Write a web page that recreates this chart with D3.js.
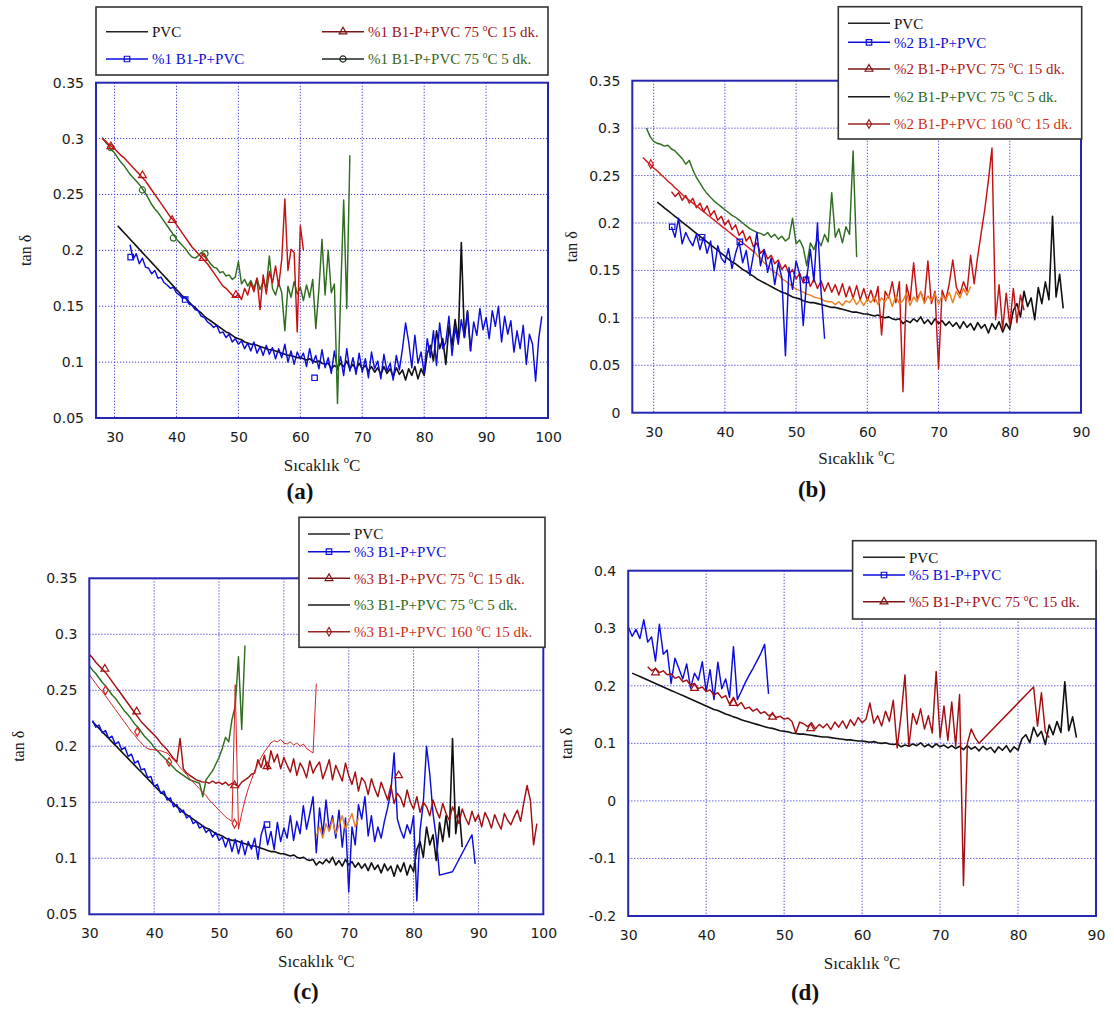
<!DOCTYPE html>
<html>
<head>
<meta charset="utf-8">
<script src="https://cdn.jsdelivr.net/npm/d3@7"></script>
<style>
  body { margin: 0; background: #fff; }
  svg { display: block; }
</style>
</head>
<body>
<svg id="chart" width="1114" height="1009"></svg>
<script>
// Temperature spacing of the DMA readings (°C)
const STEP = 0.5;

// Every trace is a list of runs: [first temperature, tan δ readings every STEP °C].
// Consecutive runs are joined by a straight segment (gaps in the recording).

// Neat PVC reference, same in every panel
const pvc = [[30.5, [
  0.222,0.219,0.216,0.213,0.210,0.207,0.204,0.201,0.198,0.195,
  0.192,0.189,0.186,0.183,0.180,0.177,0.174,0.171,0.168,0.165,
  0.162,0.159,0.157,0.154,0.151,0.149,0.146,0.144,0.141,0.139,
  0.137,0.135,0.133,0.131,0.129,0.127,0.126,0.124,0.122,0.121,
  0.120,0.118,0.117,0.116,0.116,0.115,0.114,0.113,0.112,0.111,
  0.111,0.110,0.109,0.108,0.107,0.106,0.106,0.105,0.104,0.104,
  0.103,0.102,0.103,0.101,0.100,0.101,0.099,0.098,0.099,0.094,
  0.097,0.095,0.099,0.096,0.101,0.094,0.098,0.093,0.099,0.094,
  0.097,0.092,0.096,0.091,0.095,0.089,0.096,0.090,0.094,0.087,
  0.095,0.089,0.093,0.084,0.094,0.088,0.096,0.085,0.094,0.088,
  0.108,0.115,0.101,0.128,0.112,0.121,0.098,0.132,0.115,0.138,
  0.119,0.207,0.122,0.146,0.110]]];

// (a) %1 B1-P
const aBlue = [[32.5, [
  0.205,0.192,0.197,0.188,0.193,0.185,
  0.184,0.179,0.182,0.175,0.176,0.171,0.169,0.166,0.167,0.162,
  0.160,0.157,0.158,0.152,0.151,0.147,0.146,0.141,0.140,0.136,
  0.134,0.131,0.133,0.126,0.127,0.122,0.125,0.118,0.121,0.116,
  0.119,0.112,0.117,0.110,0.118,0.108,0.114,0.106,0.115,0.107,
  0.113,0.103,0.112,0.104,0.116,0.100,0.110,0.098,0.109,0.103,
  0.108,0.096,0.112,0.099,0.106,0.094,0.111,0.095,0.104,0.090,
  0.110,0.093,0.105,0.088,0.112,0.092,0.104,0.089,0.108,0.091,
  0.103,0.086,0.109,0.094,0.101,0.085,0.107,0.092,0.099,0.084,
  0.106,0.093,0.112,0.135,0.118,0.095,0.124,0.099,0.109,0.090,
  0.121,0.104,0.128,0.097,0.135,0.112,0.118,0.141,0.106,0.131,
  0.116,0.138,0.122,0.145,0.110,0.136,0.124,0.148,0.129,0.140,
  0.121,0.146,0.132,0.150,0.118,0.141,0.125,0.137,0.109,0.128,
  0.112,0.133,0.098,0.125,0.116,0.083,0.121,0.141]]];
const aRed = [[28, [
  0.300,0.298,0.295,0.293,0.291,
  0.288,0.285,0.283,0.280,0.277,0.274,0.271,0.268,0.265,0.262,
  0.258,0.254,0.250,0.246,0.242,0.238,0.234,0.230,0.227,0.223,
  0.219,0.215,0.211,0.207,0.203,0.200,0.197,0.194,0.191,0.188,
  0.184,0.180,0.176,0.172,0.168,0.166,0.163,0.160,0.158,0.161,
  0.156,0.166,0.160,0.171,0.163,0.175,0.147,0.178,0.161,0.181,
  0.171,0.186,0.168,0.192,0.246,0.182,0.201,0.198,0.127,0.222,
  0.200]]];
const aGreen = [[28, [
  0.301,0.297,0.294,0.290,0.287,
  0.283,0.279,0.276,0.272,0.268,0.265,0.262,0.259,0.255,0.251,
  0.246,0.241,0.237,0.234,0.230,0.226,0.222,0.218,0.214,0.210,
  0.207,0.204,0.201,0.197,0.194,0.193,0.195,0.198,0.197,0.192,
  0.188,0.185,0.184,0.180,0.181,0.177,0.178,0.174,0.176,0.190,
  0.170,0.174,0.168,0.173,0.166,0.175,0.165,0.172,0.167,0.195,
  0.166,0.160,0.171,0.162,0.128,0.168,0.158,0.172,0.161,0.167,
  0.155,0.169,0.158,0.174,0.130,0.165,0.210,0.160,0.200,0.162,
  0.170,0.063,0.158,0.245,0.148,0.285]]];
const aBlueMarks = [[32.6,0.194],[41.4,0.156],[62.3,0.086]];
const aRedMarks = [[29.4,0.293],[34.5,0.267],[39.3,0.227],[44.3,0.193],[49.6,0.160]];
const aGreenMarks = [[29.4,0.292],[34.5,0.254],[39.5,0.211],[44.6,0.197]];

// (b) %2 B1-P
const bGreen = [[29, [
  0.300,0.291,0.286,
  0.284,0.283,0.281,0.282,0.278,0.276,0.272,0.268,0.262,0.266,
  0.256,0.248,0.242,0.236,0.231,0.227,0.223,0.220,0.217,0.214,
  0.211,0.208,0.206,0.203,0.200,0.197,0.194,0.192,0.190,0.189,
  0.187,0.190,0.185,0.188,0.183,0.186,0.181,0.184,0.205,0.178,
  0.182,0.174,0.155,0.179,0.172,0.183,0.176,0.188,0.180,0.232,
  0.185,0.194,0.179,0.196,0.188,0.276,0.164]]];
const bBlue = [[32.5, [
  0.196,0.185,0.205,0.178,0.190,0.182,
  0.176,0.188,0.172,0.185,0.168,0.181,0.150,0.176,0.163,0.158,
  0.173,0.152,0.168,0.180,0.158,0.171,0.145,0.166,0.190,0.155,
  0.172,0.148,0.163,0.135,0.158,0.142,0.060,0.153,0.130,0.160,
  0.146,0.092,0.142,0.172,0.138,0.200,0.128,0.078]]];
const b160 = [[28.5, [
  0.269,0.265,0.262,0.258,
  0.255,0.251,0.248,0.244,0.241,0.237,0.234,0.230,0.227,0.224,
  0.221,0.218,0.215,0.212,0.209,0.206,0.203,0.200,0.197,0.194,
  0.191,0.188,0.185,0.182,0.179,0.176,0.173,0.170]]];
const b160Late = [[44, [
  0.172,0.166,0.163,
  0.158,0.155,0.151,0.148,0.146,0.141,0.139,0.136,0.133,0.130,
  0.129,0.127,0.125,0.124,0.122,0.121,0.120,0.118,0.117,0.117,
  0.114,0.117,0.113,0.118,0.116,0.121,0.114,0.119,0.113,0.120,
  0.116,0.122,0.114,0.121,0.117,0.124,0.112,0.123,0.115,0.118,
  0.126,0.113,0.122,0.117,0.128,0.115,0.123,0.118,0.126,0.114,
  0.124,0.119,0.127,0.116,0.128,0.121,0.131,0.124,0.133]]];
const bRed = [[32.5, [
  0.233,0.228,0.232,0.224,0.229,0.221,
  0.226,0.216,0.221,0.212,0.218,0.208,0.213,0.203,0.207,0.198,
  0.203,0.193,0.198,0.187,0.192,0.181,0.186,0.175,0.179,0.168,
  0.172,0.162,0.166,0.157,0.161,0.151,0.156,0.146,0.151,0.141,
  0.147,0.137,0.145,0.133,0.141,0.131,0.139,0.128,0.137,0.127,
  0.135,0.124,0.136,0.122,0.133,0.121,0.134,0.119,0.131,0.118,
  0.129,0.117,0.133,0.082,0.128,0.121,0.138,0.116,0.138,0.022,
  0.135,0.118,0.158,0.120,0.127,0.117,0.160,0.115,0.128,0.046,
  0.129,0.118,0.136,0.161,0.132,0.125,0.138,0.128,0.166,0.136,
  0.165,0.190,0.215,0.245,0.279,0.098,0.135,0.088,0.126,0.092,
  0.131,0.095,0.124,0.108]]];
const bBlueMarks = [[32.6,0.196],[36.8,0.185],[42.1,0.180],[51.4,0.140]];
const b160Marks = [[29.6,0.262]];

// (c) %3 B1-P
const cBlue = [[30.5, [
  0.223,0.217,0.219,0.212,0.214,0.207,0.209,0.202,0.204,0.197,
  0.199,0.191,0.193,0.185,0.187,0.179,0.180,0.172,0.173,0.164,
  0.166,0.158,0.160,0.152,0.154,0.146,0.148,0.141,0.143,0.136,
  0.138,0.131,0.133,0.127,0.129,0.123,0.126,0.119,0.123,0.116,
  0.119,0.110,0.118,0.106,0.117,0.104,0.116,0.103,0.115,0.108,
  0.118,0.099,0.121,0.130,0.112,0.124,0.108,0.132,0.115,0.127,
  0.118,0.138,0.116,0.133,0.122,0.147,0.126,0.140,0.155,0.105,
  0.145,0.121,0.152,0.125,0.138,0.118,0.143,0.110,0.136,0.070,
  0.128,0.112,0.148,0.135,0.155,0.120,0.138,0.115,0.128,0.118,
  0.133,0.145,0.160,0.194,0.135,0.125,0.118,0.130,0.122,0.138,
  0.062,0.125,0.150,0.200,0.175,0.140,0.118,0.085]],
  [86, [0.088]],
  [89, [0.121,0.095]]];
const cRed = [[30, [
  0.282,0.279,0.275,0.272,0.269,0.266,0.262,0.258,0.254,0.250,0.246,
  0.242,0.238,0.234,0.230,0.226,0.222,0.219,0.216,0.213,0.210,
  0.207,0.203,0.200,0.197,0.193,0.189,0.186,0.207,0.180,0.176,
  0.174,0.172,0.170,0.169,0.168,0.168,0.167,0.169,0.167,0.168,
  0.166,0.168,0.165,0.167,0.166,0.164,0.168,0.170,0.172,0.175,
  0.176,0.188,0.181,0.192,0.179,0.196,0.186,0.193,0.180,0.190,
  0.183,0.177,0.189,0.174,0.185,0.180,0.172,0.187,0.176,0.182,
  0.186,0.171,0.179,0.188,0.170,0.183,0.176,0.169,0.185,0.174,
  0.166,0.177,0.160,0.172,0.168,0.157,0.171,0.162,0.155,0.168,
  0.160,0.152,0.165,0.149,0.158,0.154,0.146,0.161,0.150,0.144,
  0.155,0.141,0.150,0.146,0.138,0.152,0.143,0.136,0.149,0.140,
  0.134,0.146,0.139,0.131,0.144,0.136,0.130,0.142,0.133,0.139,
  0.128,0.141,0.135,0.127,0.139,0.132,0.126,0.140,0.134,0.130,
  0.137,0.143,0.133,0.150,0.165,0.152,0.112,0.131]]];
const cGreen = [[30, [
  0.272,0.268,0.265,0.261,0.257,0.254,0.250,0.246,0.243,0.239,0.235,
  0.231,0.228,0.224,0.220,0.217,0.213,0.209,0.206,0.203,0.199,
  0.196,0.193,0.190,0.187,0.184,0.181,0.178,0.176,0.174,0.172,
  0.170,0.169,0.168,0.167,0.155,0.170,0.174,0.178,0.184,0.190,
  0.198,0.208,0.204,0.224,0.236,0.280,0.215,0.290]]];
const c160 = [[30, [
  0.264,0.260,0.256,0.252,0.249,0.245,0.241,0.237,0.233,0.229,0.225,
  0.221,0.217,0.213,0.210,0.206,0.203,0.200,0.198,0.197,0.197,
  0.196,0.196,0.195,0.194,0.191,0.188,0.185,0.181,0.178,0.175,
  0.171,0.168,0.165,0.162,0.159,0.156,0.152,0.149,0.146,0.143,
  0.140,0.137,0.135,0.133,0.255,0.126,0.140,0.152,0.162,0.170,
  0.178,0.184,0.190,0.195,0.199,0.203,0.205,0.204,0.206,0.203,
  0.202,0.204,0.201,0.203,0.200,0.202,0.198,0.196,0.194,0.256]]];
const c160Late = [[65, [
  0.120,0.128,0.118,0.131,0.124,0.135,0.122,0.129,0.138,0.126,0.133,0.140,0.128,0.136]]];
const cBlueMarks = [[57.4,0.130]];
const cRedMarks = [[32.4,0.269],[37.3,0.231],[52.4,0.165],[57.4,0.182],[77.7,0.174]];
const c160Marks = [[32.5,0.250],[37.4,0.213],[42.3,0.186],[52.4,0.131]];

// (d) %5 B1-P
const dBlue = [[30, [
  0.303,0.286,0.298,0.282,0.315,0.276,0.285,0.243,0.307,0.255,0.262,
  0.204,0.248,0.230,0.212,0.238,0.196,0.222,0.210,0.242,0.190,
  0.228,0.176,0.241,0.195,0.212,0.180,0.268,0.176,0.190,0.205,
  0.218,0.230,0.243,0.256,0.272,0.186]]];
const dRed = [[32.5, [
  0.233,0.226,0.230,0.223,0.226,0.219,
  0.221,0.213,0.216,0.207,0.210,0.201,0.204,0.195,0.198,0.190,
  0.193,0.184,0.188,0.179,0.183,0.168,0.180,0.165,0.171,0.160,
  0.163,0.156,0.160,0.152,0.155,0.148,0.151,0.145,0.147,0.142,
  0.144,0.138,0.118,0.137,0.134,0.129,0.136,0.125,0.133,0.127,
  0.134,0.124,0.137,0.128,0.139,0.126,0.141,0.131,0.145,0.136,
  0.142,0.170,0.135,0.148,0.130,0.156,0.138,0.175,0.092,0.149,
  0.219,0.095,0.152,0.133,0.160,0.125,0.148,0.118,0.225,0.110,
  0.165,0.105,0.172,0.095,0.185,-0.147,0.100,0.125,0.110,0.100]],
  [82, [0.198,0.130,0.188,0.120,0.110]]];
const dRedMarks = [[33.5,0.223],[38.5,0.196],[43.5,0.170],[48.5,0.146],[53.4,0.126]];

// Axis ticks
const xTicks100 = [30,40,50,60,70,80,90,100];
const xTicks90 = [30,40,50,60,70,80,90];
const yTicksA = [0.05,0.1,0.15,0.2,0.25,0.3,0.35];
const yTicksB = [0,0.05,0.1,0.15,0.2,0.25,0.3,0.35];
const yTicksD = [-0.2,-0.1,0,0.1,0.2,0.3,0.4];

// Legend labels
const labelsA = ['PVC','%1 B1-P+PVC','%1 B1-P+PVC 75 °C 15 dk.','%1 B1-P+PVC 75 °C 5 dk.'];
const labelsB = ['PVC','%2 B1-P+PVC','%2 B1-P+PVC 75 °C 15 dk.','%2 B1-P+PVC 75 °C 5 dk.','%2 B1-P+PVC 160 °C 15 dk.'];
const labelsC = ['PVC','%3 B1-P+PVC','%3 B1-P+PVC 75 °C 15 dk.','%3 B1-P+PVC 75 °C 5 dk.','%3 B1-P+PVC 160 °C 15 dk.'];
const labelsD = ['PVC','%5 B1-P+PVC','%5 B1-P+PVC 75 °C 15 dk.'];

// ---- styling ----
const SERIF = '"Liberation Serif","Times New Roman",serif';
const SANS = '"DejaVu Sans",Tahoma,sans-serif';
const FRAME = '#2626b2';
const GRID = '#3d3dd4';
const BLACK = '#111';
const BLUE = '#0c0cdc';
const RED = '#c41212';
const DARKRED = '#a30f12';
const GREEN = '#2f6d1f';
const ORANGE = '#e8801f';
const RED160 = '#d42222';

const panels = [
  { left: 96, right: 548, top: 82.7, bottom: 418, xDomain: [27, 100], yDomain: [0.05, 0.35],
    xTicks: xTicks100, yTicks: yTicksA, yTitleX: 25, titleY: 470.5, tag: '(a)', tagX: 300, tagY: 499,
    traces: [
      { data: pvc, color: BLACK, width: 1.6 },
      { data: aBlue, color: BLUE, marks: aBlueMarks, shape: 'square' },
      { data: aGreen, color: GREEN, marks: aGreenMarks, shape: 'circle' },
      { data: aRed, color: RED, marks: aRedMarks, shape: 'triangle' }
    ],
    legend: { x0: 96, x1: 548, y0: 7, y1: 75, items: [
      { label: labelsA[0], x: 106, y: 31.7, line: '#222', text: BLACK },
      { label: labelsA[1], x: 106, y: 59, line: BLUE, text: BLUE, shape: 'square' },
      { label: labelsA[2], x: 322, y: 31.7, line: '#7a1616', text: '#a01020', shape: 'triangle' },
      { label: labelsA[3], x: 322, y: 59, line: '#1e2a1e', text: '#3a6418', shape: 'circle' }
    ] } },
  { left: 632.3, right: 1081, top: 80.7, bottom: 412.7, xDomain: [27, 90], yDomain: [0, 0.35],
    xTicks: xTicks90, yTicks: yTicksB, yTitleX: 571, titleY: 463.5, tag: '(b)', tagX: 812, tagY: 497,
    traces: [
      { data: pvc, color: BLACK, width: 1.6 },
      { data: bGreen, color: GREEN },
      { data: bRed, color: RED },
      { data: b160, color: RED160, marks: b160Marks, shape: 'diamond' },
      { data: b160Late, color: ORANGE },
      { data: bBlue, color: BLUE, marks: bBlueMarks, shape: 'square' }
    ],
    legend: { x0: 838.3, x1: 1081.7, y0: 6.7, y1: 139, items: [
      { label: labelsB[0], x: 848, y: 23.3, line: '#222', text: BLACK },
      { label: labelsB[1], x: 848, y: 42.3, line: BLUE, text: BLUE, shape: 'square' },
      { label: labelsB[2], x: 848, y: 69, line: '#7a1616', text: '#b01818', shape: 'triangle' },
      { label: labelsB[3], x: 848, y: 96.7, line: '#1a1a1a', text: '#2d6a1e' },
      { label: labelsB[4], x: 848, y: 124, line: '#9a2424', text: '#d0301a', shape: 'diamond' }
    ] } },
  { left: 89.3, right: 543.3, top: 578.3, bottom: 914.3, xDomain: [30, 100], yDomain: [0.05, 0.35],
    xTicks: xTicks100, yTicks: yTicksA, yTitleX: 18, titleY: 967, tag: '(c)', tagX: 306, tagY: 999,
    traces: [
      { data: pvc, color: BLACK, width: 1.6 },
      { data: cBlue, color: BLUE, marks: cBlueMarks, shape: 'square' },
      { data: cRed, color: DARKRED, marks: cRedMarks, shape: 'triangle' },
      { data: cGreen, color: GREEN },
      { data: c160, color: RED160, width: 1, marks: c160Marks, shape: 'diamond' },
      { data: c160Late, color: ORANGE }
    ],
    legend: { x0: 299, x1: 545, y0: 517.3, y1: 647.3, items: [
      { label: labelsC[0], x: 308, y: 534, line: '#222', text: BLACK },
      { label: labelsC[1], x: 308, y: 551.7, line: BLUE, text: BLUE, shape: 'square' },
      { label: labelsC[2], x: 308, y: 578.3, line: '#7a1616', text: '#b01818', shape: 'triangle' },
      { label: labelsC[3], x: 308, y: 605, line: '#1a1a1a', text: '#2d6a1e' },
      { label: labelsC[4], x: 308, y: 631.7, line: '#9a2424', text: '#d0301a', shape: 'diamond' }
    ] } },
  { left: 628.2, right: 1096, top: 570.7, bottom: 916, xDomain: [30, 90], yDomain: [-0.2, 0.4],
    xTicks: xTicks90, yTicks: yTicksD, yTitleX: 566, titleY: 968.5, tag: '(d)', tagX: 805, tagY: 1000,
    traces: [
      { data: pvc, color: BLACK, width: 1.6 },
      { data: dBlue, color: BLUE },
      { data: dRed, color: DARKRED, marks: dRedMarks, shape: 'triangle' }
    ],
    legend: { x0: 852.6, x1: 1096, y0: 540.7, y1: 619, items: [
      { label: labelsD[0], x: 863, y: 557.3, line: '#222', text: BLACK },
      { label: labelsD[1], x: 863, y: 575, line: BLUE, text: BLUE, shape: 'square' },
      { label: labelsD[2], x: 863, y: 601.7, line: '#7a1616', text: '#a01020', shape: 'triangle' }
    ] } }
];

const svg = d3.select('#chart');
svg.append('rect').attr('width', 1114).attr('height', 1009).attr('fill', '#fff');

// expand runs into [temperature, value] pairs
function points(runs) {
  const out = [];
  runs.forEach(([t0, vals]) => vals.forEach((v, i) => out.push([t0 + i * STEP, v])));
  return out;
}

const symbolTypes = {
  square: [d3.symbolSquare, 30],
  triangle: [d3.symbolTriangle, 26],
  circle: [d3.symbolCircle, 30],
  diamond: [d3.symbolDiamond, 22]
};

function drawMark(g, shape, cx, cy, color) {
  const [type, size] = symbolTypes[shape];
  g.append('path')
    .attr('d', d3.symbol().type(type).size(size)())
    .attr('transform', `translate(${cx},${cy})`)
    .attr('fill', 'none')
    .attr('stroke', color)
    .attr('stroke-width', 1.2);
}

// text with "°" rendered as a small raised "o"
function richText(sel, str, fs) {
  const parts = str.split('°');
  sel.append('tspan').text(parts[0]);
  for (let i = 1; i < parts.length; i++) {
    sel.append('tspan').attr('font-size', fs * 0.62).attr('dy', -fs * 0.42).text('o');
    sel.append('tspan').attr('dy', fs * 0.42).text(parts[i]);
  }
}

const fmt = d => String(+d.toFixed(2));

panels.forEach((p, idx) => {
  const x = d3.scaleLinear().domain(p.xDomain).range([p.left, p.right]);
  const y = d3.scaleLinear().domain(p.yDomain).range([p.bottom, p.top]);
  const g = svg.append('g');
  const clipId = 'plot-clip-' + idx;
  g.append('clipPath').attr('id', clipId)
    .append('rect').attr('x', p.left).attr('y', p.top)
    .attr('width', p.right - p.left).attr('height', p.bottom - p.top);

  // dotted grid
  const grid = g.append('g').attr('stroke', GRID).attr('stroke-width', 1).attr('stroke-dasharray', '1.2,1.8');
  grid.selectAll('line.gx').data(p.xTicks.filter(t => x(t) > p.left + 1 && x(t) < p.right - 1))
    .join('line').attr('class', 'gx')
    .attr('x1', d => x(d)).attr('x2', d => x(d)).attr('y1', p.top).attr('y2', p.bottom);
  grid.selectAll('line.gy').data(p.yTicks.filter(t => y(t) < p.bottom - 1 && y(t) > p.top + 1))
    .join('line').attr('class', 'gy')
    .attr('y1', d => y(d)).attr('y2', d => y(d)).attr('x1', p.left).attr('x2', p.right);

  // axes
  const ax = g.append('g').attr('transform', `translate(0,${p.bottom})`)
    .call(d3.axisBottom(x).tickValues(p.xTicks).tickSize(0).tickPadding(14).tickFormat(fmt));
  ax.select('.domain').remove();
  ax.attr('font-family', SANS).attr('font-size', 14);
  ax.selectAll('text').attr('fill', '#1a1a1a');

  const ay = g.append('g').attr('transform', `translate(${p.left},0)`)
    .call(d3.axisLeft(y).tickValues(p.yTicks).tickSize(0).tickPadding(12).tickFormat(fmt));
  ay.select('.domain').remove();
  ay.attr('font-family', SANS).attr('font-size', 14);
  ay.selectAll('text').attr('fill', '#1a1a1a');

  // traces
  const line = d3.line().x(d => x(d[0])).y(d => y(d[1]));
  const tg = g.append('g').attr('clip-path', `url(#${clipId})`);
  p.traces.forEach(t => {
    tg.append('path')
      .attr('d', line(points(t.data)))
      .attr('fill', 'none')
      .attr('stroke', t.color)
      .attr('stroke-width', t.width || 1.45)
      .attr('stroke-linejoin', 'round');
    if (t.marks) t.marks.forEach(m => drawMark(tg, t.shape, x(m[0]), y(m[1]), t.color));
  });

  // frame
  g.append('rect').attr('x', p.left).attr('y', p.top)
    .attr('width', p.right - p.left).attr('height', p.bottom - p.top)
    .attr('fill', 'none').attr('stroke', FRAME).attr('stroke-width', 2);

  // axis titles
  const xt = g.append('text').attr('x', (p.left + p.right) / 2).attr('y', p.titleY)
    .attr('text-anchor', 'middle').attr('font-family', SERIF).attr('font-size', 17).attr('fill', '#1a1a1a');
  richText(xt, 'Sıcaklık °C', 17);
  g.append('text')
    .attr('transform', `translate(${p.yTitleX},${(p.top + p.bottom) / 2}) rotate(-90)`)
    .attr('text-anchor', 'middle').attr('dy', '0.35em')
    .attr('font-family', SERIF).attr('font-size', 16).attr('fill', '#1a1a1a')
    .text('tan δ');
  g.append('text').attr('x', p.tagX).attr('y', p.tagY)
    .attr('text-anchor', 'middle').attr('font-family', SERIF).attr('font-size', 23)
    .attr('font-weight', 'bold').attr('fill', '#111').text(p.tag);

  // legend
  const L = p.legend;
  const lg = g.append('g');
  lg.append('rect').attr('x', L.x0).attr('y', L.y0)
    .attr('width', L.x1 - L.x0).attr('height', L.y1 - L.y0)
    .attr('fill', '#fff').attr('stroke', '#333').attr('stroke-width', 1.6);
  L.items.forEach(it => {
    lg.append('line').attr('x1', it.x).attr('x2', it.x + 42).attr('y1', it.y).attr('y2', it.y)
      .attr('stroke', it.line).attr('stroke-width', 1.4);
    if (it.shape) drawMark(lg, it.shape, it.x + 21, it.y, it.line);
    const tx = lg.append('text').attr('x', it.x + 46).attr('y', it.y).attr('dy', '0.35em')
      .attr('font-family', SERIF).attr('font-size', 15).attr('fill', it.text);
    richText(tx, it.label, 15);
  });
});
</script>
</body>
</html>
